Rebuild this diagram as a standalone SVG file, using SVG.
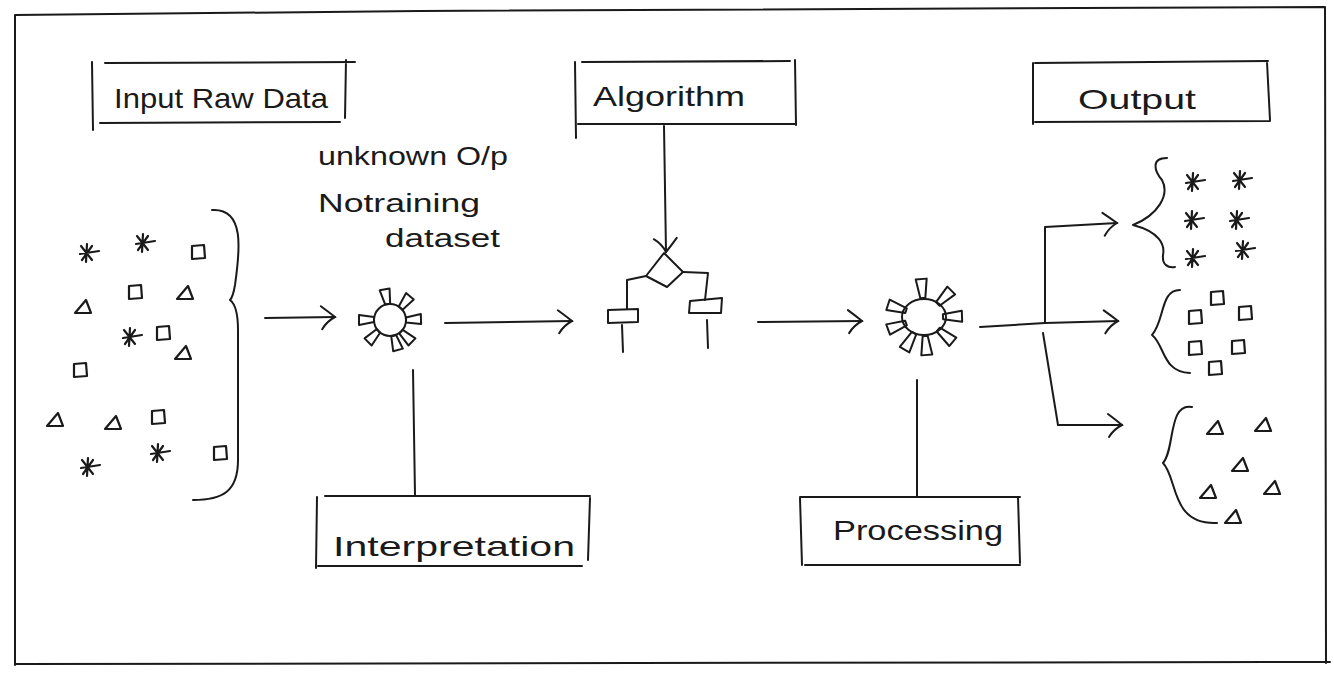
<svg xmlns="http://www.w3.org/2000/svg" xmlns:xlink="http://www.w3.org/1999/xlink" width="1334" height="681" viewBox="0 0 1334 681">
<style>
.ln{fill:none;stroke:#1a1a1a;stroke-width:2;stroke-linecap:round;stroke-linejoin:round}
.sy{fill:none;stroke:#1a1a1a;stroke-width:2.2;stroke-linecap:round;stroke-linejoin:round}
.lbl{font-family:"Liberation Sans",Arial,sans-serif;font-size:28px;fill:#1a1a1a}
.note{font-family:"Liberation Sans",Arial,sans-serif;font-size:25px;fill:#1a1a1a}
</style>
<defs>
<marker id="arr" markerUnits="userSpaceOnUse" markerWidth="24" markerHeight="28" refX="18" refY="14" orient="auto">
<path d="M4,3 Q12,9 18,14 Q10,18 5,26" fill="none" stroke="#1a1a1a" stroke-width="2" stroke-linecap="round"/>
</marker>
<g id="star" class="sy"><path d="M-6,-7 L5,7 M5,-7 L-5,7 M0,-9 L-1,9 M-7,1 L12,-2"/></g>
<g id="sq" class="sy"><path d="M-6,-6 L6,-7 L7,6 L-6,7 Z"/></g>
<g id="tri" class="sy"><path d="M-8,6 L3,-7 L8,6 Z"/></g>
<path id="ray1" class="ln" d="M-2,-16 L3,-16 L5,-31 L-5,-31 Z"/>
<path id="ray2" class="ln" d="M-2,-19 L3,-19 L6,-38 L-5,-38 Z"/>
</defs>
<rect width="1334" height="681" fill="#ffffff"/>
<g id="frame" class="ln"><path d="M15,15 L420,11 L1325,7 M15,15 L15,665 M1325,7 L1326,663 M15,664 L1330,662"/></g>

<g id="input-box">
<path class="ln" d="M92,62 L93,130 M105,63 L355,62 M100,123 L340,122 M346,60 L345,118"/>
<text class="lbl" x="114" y="108" textLength="214" lengthAdjust="spacingAndGlyphs">Input Raw Data</text>
</g>
<g id="algorithm-box">
<path class="ln" d="M575,62 L576,138 M582,62 L790,61 M578,124 L795,124 M795,60 L796,125"/>
<text class="lbl" x="593" y="106" textLength="152" lengthAdjust="spacingAndGlyphs">Algorithm</text>
</g>
<g id="output-box">
<path class="ln" d="M1033,63 L1033,124 M1035,63 L1268,61 M1035,122 L1270,121 M1267,62 L1270,120"/>
<text class="lbl" x="1078" y="109" textLength="118" lengthAdjust="spacingAndGlyphs">Output</text>
</g>
<g id="interpretation-box">
<path class="ln" d="M317,497 L316,568 M325,496 L590,496 M318,566 L582,566 M590,498 L588,560"/>
<text class="lbl" x="333" y="556" textLength="242" lengthAdjust="spacingAndGlyphs">Interpretation</text>
</g>
<g id="processing-box">
<path class="ln" d="M800,498 L802,565 M800,497 L1020,497 M805,565 L1020,565 M1018,497 L1020,563"/>
<text class="lbl" x="833" y="540" textLength="170" lengthAdjust="spacingAndGlyphs">Processing</text>
</g>

<g id="note">
<text class="note" x="318" y="165" textLength="190" lengthAdjust="spacingAndGlyphs">unknown O/p</text>
<text class="note" x="318" y="212" textLength="162" lengthAdjust="spacingAndGlyphs">Notraining</text>
<text class="note" x="385" y="247" textLength="115" lengthAdjust="spacingAndGlyphs">dataset</text>
</g>

<g id="raw-data">
<use xlink:href="#star" x="87" y="253"/><use xlink:href="#star" x="143" y="243"/><use xlink:href="#sq" x="198" y="252"/>
<use xlink:href="#sq" x="135" y="292"/><use xlink:href="#tri" x="185" y="293"/><use xlink:href="#tri" x="83" y="307"/>
<use xlink:href="#star" x="130" y="337"/><use xlink:href="#sq" x="163" y="333"/><use xlink:href="#tri" x="183" y="353"/>
<use xlink:href="#sq" x="80" y="370"/><use xlink:href="#tri" x="55" y="420"/><use xlink:href="#tri" x="113" y="423"/>
<use xlink:href="#sq" x="158" y="417"/><use xlink:href="#star" x="88" y="467"/><use xlink:href="#star" x="158" y="453"/>
<use xlink:href="#sq" x="220" y="453"/>
<path class="ln" d="M212,210 C245,208 240,250 235,285 Q233,297 230,300 Q238,306 238,330 L238,460 C238,492 222,500 193,500"/>
</g>

<g id="sun1">
<circle class="ln" cx="390" cy="320" r="16"/>
<g transform="translate(390,320)">
<use xlink:href="#ray1" transform="rotate(-10)"/><use xlink:href="#ray1" transform="rotate(40)"/><use xlink:href="#ray1" transform="rotate(88)"/>
<use xlink:href="#ray1" transform="rotate(135)"/><use xlink:href="#ray1" transform="rotate(165)"/><use xlink:href="#ray1" transform="rotate(225)"/>
<use xlink:href="#ray1" transform="rotate(270)"/></g>
</g>

<g id="algorithm-chart" class="ln">
<path d="M664,253 L683,272 L667,287 L646,276 Z"/>
<path d="M646,276 L627,280 L627,309 M683,272 L708,273 L705,300"/>
<path d="M608,310 L638,309 L638,322 L608,323 Z"/>
<path d="M690,301 L722,298 L721,313 L689,313 Z"/>
<path d="M622,325 L623,352 M707,320 L708,348"/>
</g>

<g id="sun2">
<ellipse class="ln" cx="924" cy="317" rx="22" ry="18"/>
<g transform="translate(924,317)">
<use xlink:href="#ray2" transform="rotate(-5)"/><use xlink:href="#ray2" transform="rotate(45)"/><use xlink:href="#ray2" transform="rotate(88)"/>
<use xlink:href="#ray2" transform="rotate(130)"/><use xlink:href="#ray2" transform="rotate(175)"/><use xlink:href="#ray2" transform="rotate(210)"/>
<use xlink:href="#ray2" transform="rotate(250)"/><use xlink:href="#ray2" transform="rotate(288)"/></g>
</g>

<g id="out-stars">
<path class="ln" d="M1167,158 C1150,158 1155,172 1162,180 C1170,195 1158,215 1133,225 C1160,232 1165,245 1163,255 C1162,265 1168,268 1175,267"/>
<use xlink:href="#star" x="1193" y="182"/><use xlink:href="#star" x="1240" y="180"/>
<use xlink:href="#star" x="1192" y="220"/><use xlink:href="#star" x="1237" y="220"/>
<use xlink:href="#star" x="1193" y="258"/><use xlink:href="#star" x="1243" y="250"/>
</g>
<g id="out-squares">
<path class="ln" d="M1180,290 C1160,290 1165,320 1152,335 C1165,345 1162,372 1190,373"/>
<use xlink:href="#sq" x="1217" y="298"/><use xlink:href="#sq" x="1195" y="317"/><use xlink:href="#sq" x="1245" y="313"/>
<use xlink:href="#sq" x="1195" y="348"/><use xlink:href="#sq" x="1238" y="347"/><use xlink:href="#sq" x="1215" y="368"/>
</g>
<g id="out-triangles">
<path class="ln" d="M1192,407 C1168,402 1175,450 1163,463 C1178,478 1170,525 1217,523"/>
<use xlink:href="#tri" x="1215" y="428"/><use xlink:href="#tri" x="1263" y="425"/><use xlink:href="#tri" x="1240" y="465"/>
<use xlink:href="#tri" x="1208" y="492"/><use xlink:href="#tri" x="1272" y="488"/><use xlink:href="#tri" x="1233" y="517"/>
</g>

<g id="connectors" class="ln">
<path d="M265,318 L335,317" marker-end="url(#arr)"/>
<path d="M445,323 L572,321" marker-end="url(#arr)"/>
<path d="M758,322 L862,321" marker-end="url(#arr)"/>
<path d="M664,126 L666,252" marker-end="url(#arr)"/>
<path d="M413,370 L415,495"/>
<path d="M917,380 L917,496"/>
<path d="M980,327 L1045,323 L1118,321" marker-end="url(#arr)"/>
<path d="M1045,323 L1045,227 L1117,223" marker-end="url(#arr)"/>
<path d="M1043,333 L1058,425 L1122,425" marker-end="url(#arr)"/>
</g>
</svg>
